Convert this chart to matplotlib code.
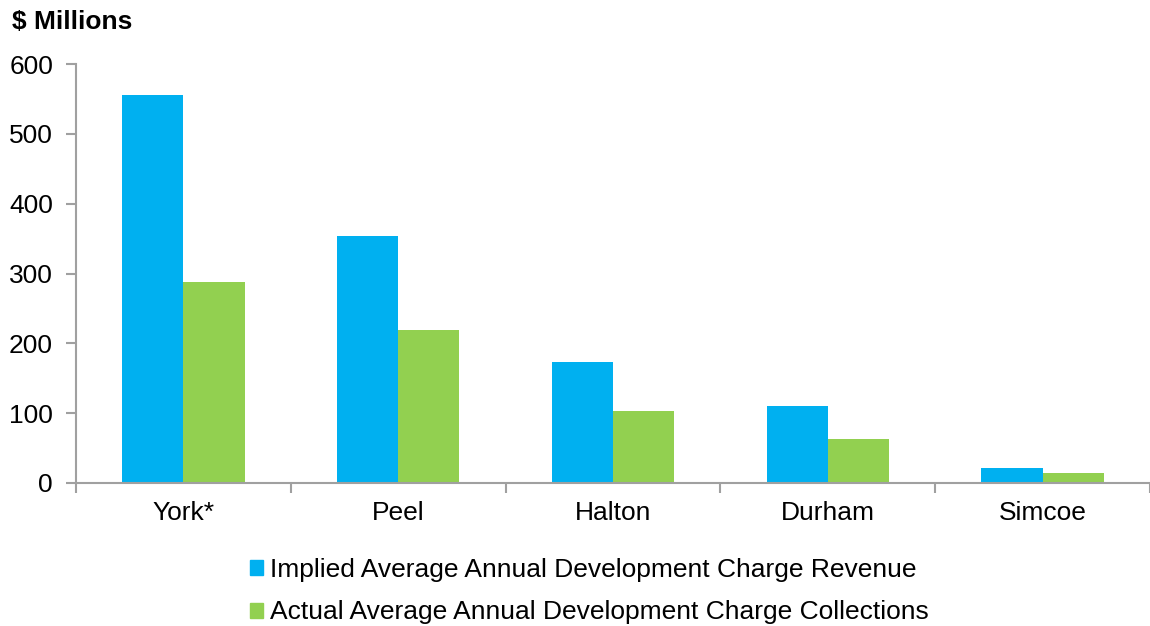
import matplotlib
matplotlib.use('Agg')
import matplotlib.pyplot as plt
import numpy as np
from matplotlib.patches import Rectangle

plt.rcParams['font.family'] = ['Liberation Sans', 'DejaVu Sans']

regions = ['York*', 'Peel', 'Halton', 'Durham', 'Simcoe']
implied = [556, 354, 173, 110, 21]
actual = [288, 219, 103, 63, 14]
series_names = ['Implied Average Annual Development Charge Revenue',
                'Actual Average Annual Development Charge Collections']
blue = '#00B0F0'
green = '#92D050'
grey = '#A0A0A0'

fig = plt.figure(figsize=(11.5, 6.26), dpi=100)
ax = fig.add_axes([76/1150, 1-483/626, 1074/1150, (483-64)/626])

x = np.arange(len(regions))
w = 0.285
ax.bar(x - w/2, implied, w, color=blue)
ax.bar(x + w/2, actual, w, color=green)

ax.set_xlim(-0.5, len(regions) - 0.5)
ax.set_ylim(0, 600)
ax.set_yticks(range(0, 601, 100))
ax.set_xticks(x)
ax.set_xticklabels(regions)
ax.set_xticks(np.arange(-0.5, len(regions) - 0.4, 1), minor=True)
ax.tick_params(axis='x', which='major', length=0, pad=13, labelsize=19)
ax.tick_params(axis='x', which='minor', length=7, color=grey, width=1.5)
ax.tick_params(axis='y', length=7, color=grey, width=1.5, labelsize=19, pad=9.5)
for s in ['top', 'right']:
    ax.spines[s].set_visible(False)
for s in ['left', 'bottom']:
    ax.spines[s].set_color(grey)
    ax.spines[s].set_linewidth(1.5)

fig.text(12/1150, 1-22/626, '$ Millions', fontsize=19, fontweight='bold', va='center', ha='left')

handles = [Rectangle((0, 0), 1, 1, color=blue), Rectangle((0, 0), 1, 1, color=green)]
fig.legend(handles, series_names, loc='upper left', bbox_to_anchor=(250/1150, 1-558/626),
           frameon=False, fontsize=19, handlelength=0.5, handleheight=0.5,
           handletextpad=0.27, labelspacing=0.7, borderpad=0, borderaxespad=0)

fig.savefig('out.png', dpi=100)
